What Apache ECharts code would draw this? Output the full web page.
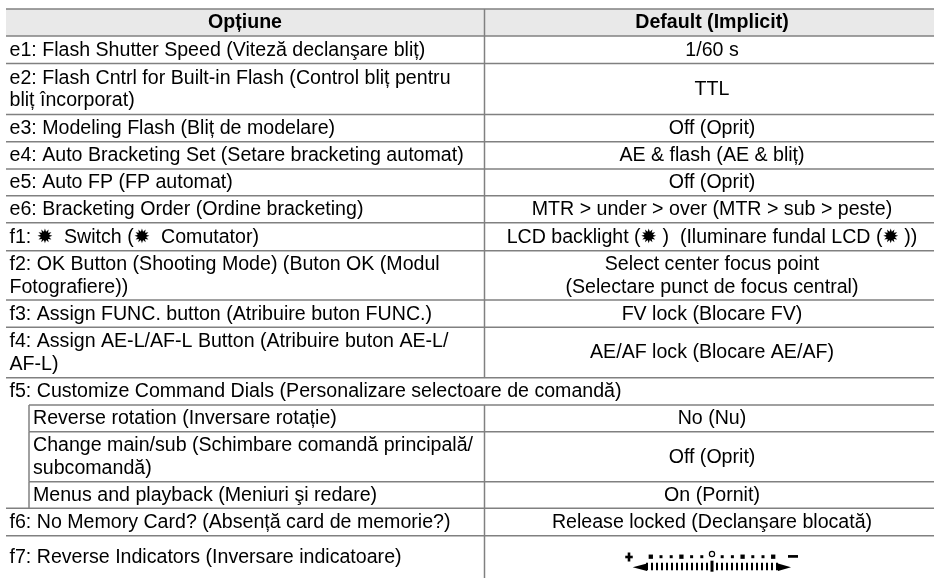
<!DOCTYPE html>
<html>
<head>
<meta charset="utf-8">
<style>
  html, body { margin: 0; padding: 0; background: #fff; }
  #chart { width: 934px; height: 578px; }
</style>
<script src="https://cdn.jsdelivr.net/npm/echarts@6/dist/echarts.min.js"></script>
</head>
<body>
<div id="chart"></div>
<script>
const headerLabels = ["Opțiune", "Default (Implicit)"];
const optionLabels = [
  "e1: Flash Shutter Speed (Viteză declanşare bliț)",
  "e2: Flash Cntrl for Built-in Flash (Control bliț pentru\nbliț încorporat)",
  "e3: Modeling Flash (Bliț de modelare)",
  "e4: Auto Bracketing Set (Setare bracketing automat)",
  "e5: Auto FP (FP automat)",
  "e6: Bracketing Order (Ordine bracketing)",
  "f1: ✹  Switch (✹  Comutator)",
  "f2: OK Button (Shooting Mode) (Buton OK (Modul\nFotografiere))",
  "f3: Assign FUNC. button (Atribuire buton FUNC.)",
  "f4: Assign AE-L/AF-L Button (Atribuire buton AE-L/\nAF-L)",
  "f5: Customize Command Dials (Personalizare selectoare de comandă)",
  "Reverse rotation (Inversare rotație)",
  "Change main/sub (Schimbare comandă principală/\nsubcomandă)",
  "Menus and playback (Meniuri şi redare)",
  "f6: No Memory Card? (Absență card de memorie?)",
  "f7: Reverse Indicators (Inversare indicatoare)",
];
const defaultLabels = [
  "1/60 s",
  "TTL",
  "Off (Oprit)",
  "AE & flash (AE & bliț)",
  "Off (Oprit)",
  "MTR > under > over (MTR > sub > peste)",
  "LCD backlight (✹ )  (Iluminare fundal LCD (✹ ))",
  "Select center focus point\n(Selectare punct de focus central)",
  "FV lock (Blocare FV)",
  "AE/AF lock (Blocare AE/AF)",
  "",
  "No (Nu)",
  "Off (Oprit)",
  "On (Pornit)",
  "Release locked (Declanşare blocată)",
  "",
];
// row boundaries, first one is the header top
const rowEdges = [9, 36, 63.5, 114.5, 141.7, 169, 195.7, 222.7, 250.7, 300, 327.3, 377.7, 405, 431.7, 481.7, 508.3, 535.7, 578];
const subRows = [11, 12, 13];
const spanRow = 10;
const meterRow = 15;

const tableLeft = 6;
const tableRight = 934;
const subLeft = 29;
const dividerX = 484.5;
const valueCenter = 712;
const ruleColor = "#808080";
const ruleWidth = 1.5;
const fontFamily = '"Liberation Sans", "DejaVu Sans", sans-serif';
const fontSize = 19.6;
const lineHeight = 22.6;

const rule = (api, x1, y1, x2, y2) => {
  const a = api.coord([x1, y1]);
  const b = api.coord([x2, y2]);
  return {
    type: "line",
    shape: { x1: a[0], y1: a[1], x2: b[0], y2: b[1] },
    style: { stroke: ruleColor, lineWidth: ruleWidth },
  };
};

const cellText = (api, text, x, y, align, bold) => {
  const p = api.coord([x, y]);
  return {
    type: "text",
    x: p[0],
    y: p[1],
    style: {
      text,
      align,
      verticalAlign: "middle",
      fontFamily,
      fontSize,
      fontWeight: bold ? "bold" : "normal",
      lineHeight,
      fill: "#000",
    },
  };
};

const renderHeader = (params, api) => {
  const tl = api.coord([tableLeft, rowEdges[0]]);
  const br = api.coord([tableRight, rowEdges[1]]);
  return {
    type: "group",
    children: [
      {
        type: "rect",
        shape: { x: tl[0], y: tl[1], width: br[0] - tl[0], height: br[1] - tl[1] },
        style: { fill: "#e9e9e9" },
      },
      rule(api, tableLeft, rowEdges[0], tableRight, rowEdges[0]),
      rule(api, dividerX, rowEdges[0], dividerX, rowEdges[1]),
      cellText(api, headerLabels[0], 245, (rowEdges[0] + rowEdges[1]) / 2 + 0.5, "center", true),
      cellText(api, headerLabels[1], valueCenter, (rowEdges[0] + rowEdges[1]) / 2 + 0.5, "center", true),
    ],
  };
};

const renderRow = (params, api) => {
  const i = api.value(0);
  const top = rowEdges[i + 1];
  const bottom = rowEdges[i + 2];
  const mid = (top + bottom) / 2 + 0.5;
  const isSub = subRows.includes(i);
  const children = [];
  // the rule above this row; sub rows start further in
  children.push(rule(api, isSub ? subLeft : tableLeft, top, tableRight, top));
  if (i !== spanRow) children.push(rule(api, dividerX, top, dividerX, bottom));
  if (isSub) children.push(rule(api, subLeft, top, subLeft, bottom));
  children.push(cellText(api, optionLabels[i], isSub ? 33 : 9.5, mid, "left", false));
  if (defaultLabels[i]) children.push(cellText(api, defaultLabels[i], valueCenter, mid, "center", false));
  return { type: "group", children };
};

// exposure indicator in the f7 row
const renderMeter = (params, api) => {
  const bar = (x, y, w, h) => {
    const p = api.coord([x, y]);
    return { type: "rect", shape: { x: p[0] - w / 2, y: p[1] - h / 2, width: w, height: h }, style: { fill: "#000" } };
  };
  const centerX = valueCenter;
  const children = [];
  for (let n = -13; n <= 13; n++) {
    children.push(n === 0 ? bar(centerX, 566.2, 3, 11) : bar(centerX + n * 5, 566.5, 2, 7.5));
  }
  for (let n = -6; n <= 6; n++) {
    if (n === 0) continue;
    const big = n % 3 === 0;
    children.push(bar(centerX + n * 10.2, 556.7, big ? 4.3 : 3, big ? 4.3 : 3));
  }
  const ring = api.coord([centerX, 554]);
  children.push({
    type: "circle",
    shape: { cx: ring[0], cy: ring[1], r: 2.6 },
    style: { fill: "#fff", stroke: "#000", lineWidth: 1.2 },
  });
  const arrowY = api.coord([0, 567.3])[1];
  const arrow = (tip, base) => ({
    type: "polygon",
    shape: {
      points: [
        [api.coord([tip, 0])[0], arrowY],
        [api.coord([base, 0])[0], arrowY - 3.7],
        [api.coord([base, 0])[0], arrowY + 3.7],
      ],
    },
    style: { fill: "#000" },
  });
  children.push(arrow(632.7, 647), arrow(791, 778));
  // plus and minus at the ends
  children.push(bar(629, 557, 7.5, 2.6), bar(629, 557, 2.6, 9), bar(793, 556.4, 10, 2.7));
  return { type: "group", children };
};

const chart = echarts.init(document.getElementById("chart"), null, { renderer: "canvas" });
chart.setOption({
  animation: false,
  backgroundColor: "#fff",
  tooltip: { show: false },
  grid: { left: 0, right: 0, top: 0, bottom: 0 },
  xAxis: { type: "value", min: 0, max: 934, show: false },
  yAxis: { type: "value", min: 0, max: 578, inverse: true, show: false },
  series: [
    { type: "custom", silent: true, clip: false, data: [0], renderItem: renderHeader, encode: { x: 0 } },
    { type: "custom", silent: true, clip: false, data: optionLabels.map((_, i) => [i]), renderItem: renderRow, encode: { x: 0 } },
    { type: "custom", silent: true, clip: false, data: [meterRow], renderItem: renderMeter, encode: { x: 0 } },
  ],
});
</script>
</body>
</html>
